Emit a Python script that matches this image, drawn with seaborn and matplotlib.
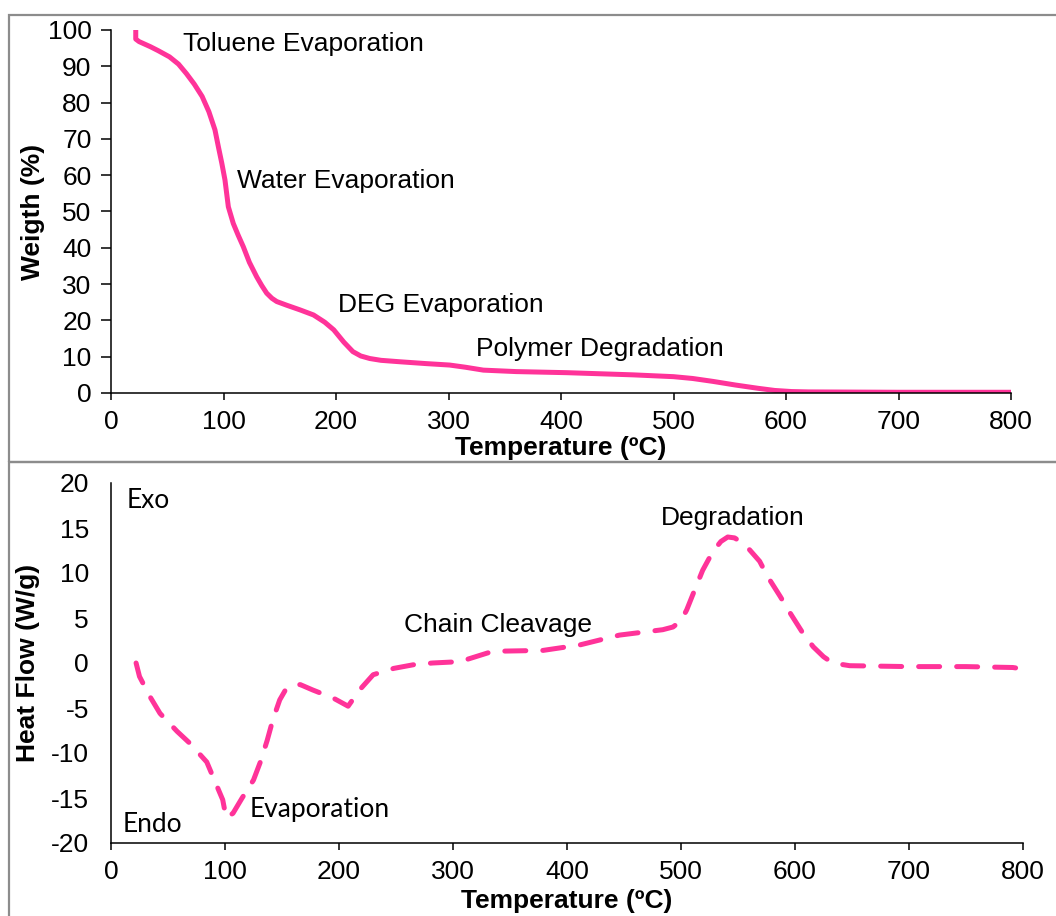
import numpy as np
import pandas as pd
import seaborn as sns
import matplotlib.pyplot as plt
from matplotlib.patches import Rectangle

# TGA curve (top panel)
tga_temp = [22, 22, 25, 30, 35, 42, 52, 60, 67, 74, 81, 87, 92.4, 95.4, 98.5, 101.3, 104.3,
            108.7, 113, 117.6, 123, 129.5, 134, 138.4, 143, 147.3, 156, 168, 180, 190, 198,
            207, 215, 222, 230, 240, 257, 280, 301, 315, 331, 360, 405, 464, 500, 517, 535,
            555, 575, 590, 605, 620, 700, 800]
weight = [100, 97.5, 96.8, 96.1, 95.4, 94.3, 92.6, 90.6, 88, 85.1, 81.7, 77.5, 72.5, 67.9, 63.3,
          58.7, 51.3, 46.7, 43.5, 40.3, 36, 32, 29.6, 27.5, 26.1, 25.2, 24.2, 22.9, 21.5, 19.5,
          17.4, 14, 11.4, 10.2, 9.5, 9.0, 8.6, 8.1, 7.7, 7.1, 6.3, 5.9, 5.6, 5.0, 4.5, 4.0,
          3.2, 2.2, 1.3, 0.7, 0.4, 0.3, 0.2, 0.2]

# DSC curve (bottom panel)
dsc_temp = [22, 25, 34, 43, 58, 69, 84, 90, 98, 101, 107, 115, 125, 131, 137, 142, 148, 153,
            158, 166, 177, 195, 208, 218, 230, 248, 265, 282, 306, 335, 379, 411, 446, 484,
            493, 500, 505, 511, 519, 528, 535, 541, 547, 552, 560, 569, 576, 587, 596, 607,
            616, 625, 633, 648, 700, 750, 791, 802]
heat_flow = [0, -1.5, -3.7, -5.6, -7.6, -8.9, -11, -12.8, -15.2, -17.2, -16.7, -15, -13, -11,
             -8.6, -6.3, -4.1, -3.0, -2.5, -2.4, -3.0, -3.9, -4.8, -3.0, -1.3, -0.6, -0.2, 0,
             0.15, 1.3, 1.4, 2.0, 3.1, 3.7, 4.0, 4.7, 5.9, 7.8, 10.3, 12.4, 13.5, 14, 13.9,
             13.5, 12.6, 11.3, 9.6, 7.4, 5.5, 3.3, 1.8, 0.7, 0, -0.3, -0.4, -0.4, -0.5, -0.7]

# labels on the curves
tga_notes = ["Toluene Evaporation", "Water Evaporation", "DEG Evaporation", "Polymer Degradation"]
tga_note_x = [64, 112, 202, 324]
tga_note_y = [96.1, 58.4, 24.2, 12.1]

dsc_notes = ["Chain Cleavage", "Degradation"]
dsc_note_x = [257, 482]
dsc_note_y = [4.2, 16.1]

side_notes = ["Exo", "Endo", "Evaporation"]
side_note_x = [14, 10.5, 122]
side_note_y = [18.1, -18, -16.3]

PINK = "#FF3399"
W, H = 1056, 916

sns.set_style("white")
plt.rcParams['font.family'] = ['Liberation Sans', 'DejaVu Sans']
plt.rcParams['axes.unicode_minus'] = False
for k in ("text.color", "axes.labelcolor", "xtick.color", "ytick.color"):
    plt.rcParams[k] = "black"

fig = plt.figure(figsize=(W / 100, H / 100), dpi=100)

# panel frames
fig.add_artist(Rectangle((9 / W, 1 - 462 / H), 1.1, (462 - 15) / H, transform=fig.transFigure,
                         fill=False, ec="#8c8c8c", lw=1.6))
fig.add_artist(Rectangle((9 / W, -0.1), 1.1, 0.1 + 1 - 462 / H, transform=fig.transFigure,
                         fill=False, ec="#8c8c8c", lw=1.6))

ax1 = fig.add_axes([111 / W, 1 - 393 / H, 900 / W, 363 / H])
ax2 = fig.add_axes([111 / W, 1 - 843 / H, 912 / W, 360 / H])

tga = pd.DataFrame({"Temperature": tga_temp, "Weight": weight})
dsc = pd.DataFrame({"Temperature": dsc_temp, "HeatFlow": heat_flow})

sns.lineplot(data=tga, x="Temperature", y="Weight", ax=ax1, color=PINK, linewidth=3.6,
             sort=False, estimator=None)
sns.lineplot(data=dsc, x="Temperature", y="HeatFlow", ax=ax2, color=PINK, linewidth=3.6,
             sort=False, estimator=None)
ln = ax2.lines[0]
ln.set_dashes([4.2, 3.4])
ln.set_dash_capstyle("round")

FS = 19

for ax in (ax1, ax2):
    ax.set_xlim(0, 800)
    ax.set_xticks(range(0, 801, 100))
    for s in ("top", "right"):
        ax.spines[s].set_visible(False)
    for s in ("left", "bottom"):
        ax.spines[s].set_color("black")
        ax.spines[s].set_linewidth(1.1)
    ax.tick_params(axis="x", direction="out", length=5, width=1.1, color="black",
                   labelsize=FS, pad=7, bottom=True)

ax1.set_ylim(0, 100)
ax1.set_yticks(range(0, 101, 10))
ax1.tick_params(axis="y", direction="out", length=7, width=1.1, color="black",
                labelsize=FS, pad=7, left=True)
ax1.set_xlabel("Temperature (ºC)", fontsize=FS, fontweight="bold", labelpad=2)
ax1.set_ylabel("Weigth (%)", fontsize=FS, fontweight="bold", labelpad=2)

ax2.set_ylim(-20, 20)
ax2.set_yticks(range(-20, 21, 5))
ax2.tick_params(axis="y", length=0, labelsize=FS, pad=16)
ax2.set_xlabel("Temperature (ºC)", fontsize=FS, fontweight="bold", labelpad=4)
ax2.set_ylabel("Heat Flow (W/g)", fontsize=FS, fontweight="bold", labelpad=8)

for t, x, y in zip(tga_notes, tga_note_x, tga_note_y):
    ax1.text(x, y, t, fontsize=FS, ha="left", va="center")
for t, x, y in zip(dsc_notes, dsc_note_x, dsc_note_y):
    ax2.text(x, y, t, fontsize=FS, ha="left", va="center")
for t, x, y in zip(side_notes, side_note_x, side_note_y):
    ax2.text(x, y, t, fontsize=FS, ha="left", va="center", family=["Lato", "DejaVu Sans"])

fig.savefig("out.png", dpi=100)
